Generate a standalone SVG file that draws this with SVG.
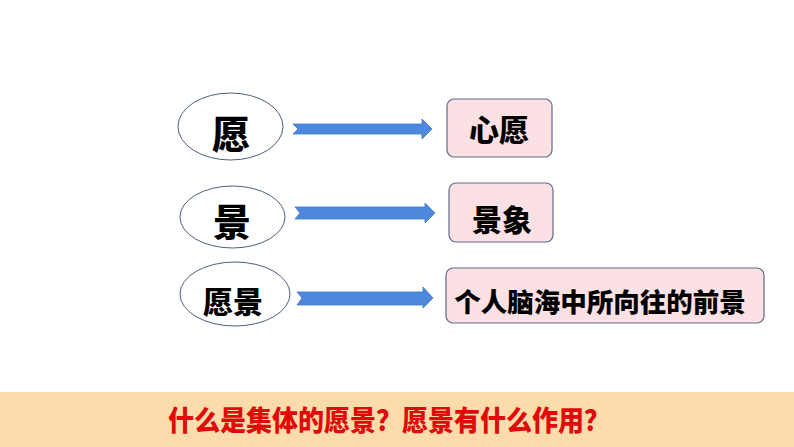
<svg xmlns="http://www.w3.org/2000/svg" width="794" height="447" viewBox="0 0 794 447">
<style>
.ell{fill:#ffffff;stroke:#4f5f7c;stroke-width:1}
.box{fill:#fbe1e4;stroke:#5d6a86;stroke-width:1.2}
.arr{fill:#4d88dc;stroke:#3f78c8;stroke-width:0.8}
.t{font-family:"Noto Sans CJK SC","Noto Sans",sans-serif;font-weight:900;fill:#000000;text-anchor:middle}
.q{font-family:"Noto Sans CJK SC","Noto Sans",sans-serif;font-weight:900;fill:#e00a0a}
</style>
<rect x="0" y="0" width="794" height="447" fill="#ffffff"/>
<g id="n-yuan">
<ellipse class="ell" cx="230.5" cy="126.5" rx="52.5" ry="33.5"/>
<text class="t" x="231" y="148" font-size="38">愿</text>
</g>
<g id="n-jing">
<ellipse class="ell" cx="232.5" cy="217" rx="52.5" ry="31"/>
<text class="t" x="232" y="236" font-size="38">景</text>
</g>
<g id="n-yuanjing">
<ellipse class="ell" cx="235" cy="294" rx="55" ry="32"/>
<text class="t" x="233" y="313" font-size="30">愿景</text>
</g>
<g id="n-xinyuan">
<rect class="box" x="447" y="99" width="105" height="58" rx="7"/>
<text class="t" x="499" y="141" font-size="30">心愿</text>
</g>
<g id="n-jingxiang">
<rect class="box" x="449" y="183" width="104" height="59" rx="7"/>
<text class="t" x="502" y="231" font-size="30">景象</text>
</g>
<g id="n-qianjing">
<rect class="box" x="446" y="268" width="318" height="55" rx="7"/>
<text class="t" x="600" y="312" font-size="26.5">个人脑海中所向往的前景</text>
</g>
<g id="connectors">
<polygon class="arr" points="293,124 422,124 422,119 432,129 422,139 422,134 293,134 298,129"/>
<polygon class="arr" points="295,207 425,207 425,203 435,213 425,223 425,219 295,219 300,213"/>
<polygon class="arr" points="297,292 423,292 423,287 433,298 423,308 423,305 297,305 302,298"/>
</g>
<g id="banner">
<rect x="0" y="392" width="794" height="55" fill="#fcdcaa"/>
<text class="q" x="168" y="431" font-size="28" textLength="442" lengthAdjust="spacingAndGlyphs">什么是集体的愿景？愿景有什么作用？</text>
</g>
</svg>
